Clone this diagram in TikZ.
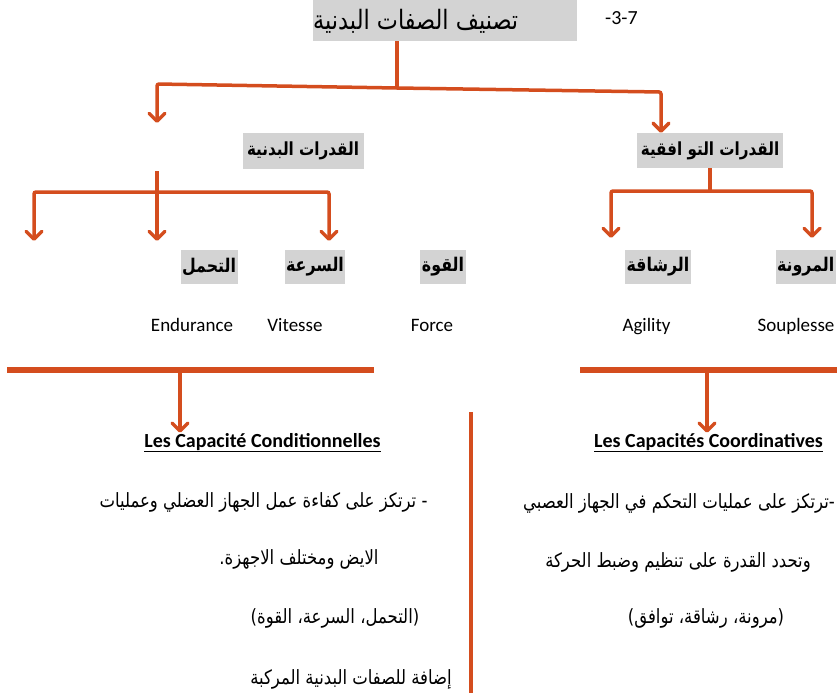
\documentclass[tikz,border=0pt]{standalone}
\usepackage{fontspec}
\usetikzlibrary{arrows.meta,calc}
\TeXXeTstate=1
\setmainfont{Carlito}
\newfontfamily\arabicfont[Script=Arabic,FakeStretch=0.84]{DejaVu Sans}
\definecolor{linkred}{RGB}{212,77,30}
\definecolor{boxgray}{RGB}{211,211,211}
% font size (pt) that gives a sample text a wanted width
\newlength\sampwidth
\newcommand{\fitsize}[3]{%
  \settowidth{\sampwidth}{\fontsize{10pt}{12pt}\selectfont #3}%
  \ifdim\sampwidth<1pt \sampwidth=100pt \fi
  \pgfmathsetmacro#1{10*#2/\the\sampwidth}}
\begin{document}
% type sizes for the Arabic texts
\fitsize{\szTitle}{205}{\arabicfont\beginR تصنيف الصفات البدنية\endR}%
\fitsize{\szMid}{112}{\arabicfont\bfseries\beginR القدرات البدنية\endR}%
\fitsize{\szRow}{54}{\arabicfont\bfseries\beginR التحمل\endR}%
\fitsize{\szBody}{328}{\arabicfont\beginR - ترتكز على كفاءة عمل الجهاز العضلي وعمليات\endR}%
\begin{tikzpicture}[x=1pt,y=-1pt,
  link/.style={draw=linkred, line width=3.5pt, rounded corners=2pt},
  arr/.style={link, -{Straight Barb[length=8pt,width=16pt,round]}},
  heavy/.style={draw=linkred, line width=6pt},
  divider/.style={draw=linkred, line width=3.3pt},
  graybox/.style={fill=boxgray, inner sep=0pt},
  titletxt/.style={inner sep=0pt, font=\arabicfont\fontsize{\szTitle pt}{\szTitle pt}\selectfont},
  midtxt/.style={graybox, font=\arabicfont\bfseries\fontsize{\szMid pt}{\szMid pt}\selectfont},
  rowtxt/.style={graybox, inner xsep=1.5pt, minimum height=34pt, font=\arabicfont\bfseries\fontsize{\szRow pt}{\szRow pt}\selectfont},
  bodytxt/.style={inner sep=0pt, font=\arabicfont\fontsize{\szBody pt}{\szBody pt}\selectfont},
  latin/.style={inner sep=0pt, anchor=base, font=\fontsize{19}{22}\selectfont},
  heading/.style={inner sep=0pt, anchor=base, font=\fontsize{20}{24}\selectfont\bfseries}
]
\useasboundingbox (0,0) rectangle (837,693);

% ---- title ----
\node[graybox, minimum width=264pt, minimum height=41pt, anchor=north west] (titlebox) at (313,0) {};
\node[titletxt, anchor=west] (title) at (313,21) {\beginR تصنيف الصفات البدنية\endR};
\node[inner sep=0pt, anchor=west, font=\fontsize{20}{24}\selectfont] (secnum) at (605,18) {-3-7};

% ---- second level ----
\node[midtxt, minimum width=121pt, minimum height=36pt] (phys) at (303,151) {\beginR القدرات البدنية\endR};
\node[midtxt, minimum width=146pt, minimum height=35pt] (coord) at (710,150.5) {\beginR القدرات التو افقية\endR};

% ---- qualities ----
\node[rowtxt] (endur) at (209,267) {\beginR التحمل\endR};
\node[rowtxt] (speed) at (315,267) {\beginR السرعة\endR};
\node[rowtxt] (force) at (443,267) {\beginR القوة\endR};
\node[rowtxt] (agil) at (658,267) {\beginR الرشاقة\endR};
\node[rowtxt, anchor=east] (flex) at (836,267) {\beginR المرونة\endR};

\node[latin] (endurfr) at (192,331) {Endurance};
\node[latin] (speedfr) at (295,331) {Vitesse};
\node[latin] (forcefr) at (432,331) {Force};
\node[latin] (agilfr) at (646.5,331) {Agility};
\node[latin] (flexfr) at (796,331) {Souplesse};

% ---- headings ----
\node[heading] (condh) at (262.5,447) {\underline{Les Capacité Conditionnelles}};
\node[heading] (coordh) at (708.5,447) {\underline{Les Capacités Coordinatives}};

% ---- body text ----
\node[bodytxt] (c1) at (263.5,502) {\beginR - ترتكز على كفاءة عمل الجهاز العضلي وعمليات\endR};
\node[bodytxt] (c2) at (299,559) {\beginR الايض ومختلف الاجهزة.\endR};
\node[bodytxt] (c3) at (335,618) {\beginR (التحمل، السرعة، القوة)\endR};
\node[bodytxt] (c4) at (351,679) {\beginR إضافة للصفات البدنية المركبة\endR};
\node[bodytxt, anchor=east] (k1) at (835,503) {\beginR -ترتكز على عمليات التحكم في الجهاز العصبي\endR};
\node[bodytxt] (k2) at (678,562) {\beginR وتحدد القدرة على تنظيم وضبط الحركة\endR};
\node[bodytxt] (k3) at (706,618) {\beginR (مرونة، رشاقة، توافق)\endR};

% ---- junction points ----
\coordinate (tdrop) at ($(titlebox.south west)+(84,0)$);
\coordinate (tjoin) at (397,88);
\coordinate (tleft) at (157,84);
\coordinate (tright) at (661,92);
\coordinate (tleftend) at (157,123);
\coordinate (ptop) at (157,171);
\coordinate (pjoin) at (157,192);
\coordinate (pleft) at (34,192);
\coordinate (pright) at (329,192);
\coordinate (pleftend) at (34,241);
\coordinate (pmidend) at (157,241);
\coordinate (prightend) at (329,241);
\coordinate (cjoin) at (710,191);
\coordinate (cleft) at (611,191);
\coordinate (cright) at (812,191);
\coordinate (cleftend) at (611,238);
\coordinate (crightend) at (812,238);
\coordinate (barLa) at (7,370);
\coordinate (barLb) at (374,370);
\coordinate (barRa) at (580,370);
\coordinate (barRb) at (837,370);
\coordinate (barLdrop) at (180,370);
\coordinate (barRdrop) at (707,370);
\coordinate (divtop) at (471,412);
\coordinate (divbot) at (471,693);

% ---- connectors ----
\draw[link] (tdrop) -- (tjoin);
\draw[arr] (tjoin) -- (tleft) -- (tleftend);
\draw[arr] (tjoin) -- (tright) -- (tright |- coord.north);

\draw[arr] (ptop) -- (pmidend);
\draw[arr] (pjoin) -- (pleft) -- (pleftend);
\draw[arr] (pjoin) -- (pright) -- (prightend);

\draw[link] (coord.south) -- (cjoin);
\draw[arr] (cjoin) -- (cleft) -- (cleftend);
\draw[arr] (cjoin) -- (cright) -- (crightend);

\draw[heavy] (barLa) -- (barLb);
\draw[heavy] (barRa) -- (barRb);
\draw[arr] (barLdrop) -- (barLdrop |- condh.north);
\draw[arr] (barRdrop) -- (barRdrop |- coordh.north);

\draw[divider] (divtop) -- (divbot);
\end{tikzpicture}
\end{document}
